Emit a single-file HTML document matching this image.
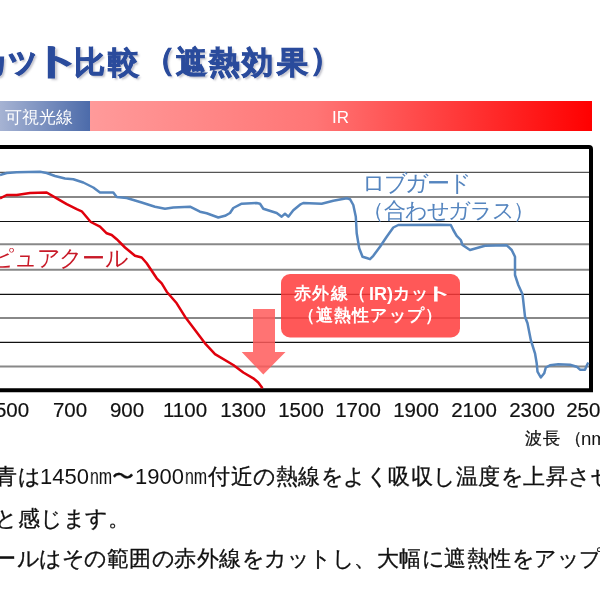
<!DOCTYPE html>
<html><head><meta charset="utf-8"><style>
html,body{margin:0;padding:0;background:#fff;}
body{width:600px;height:600px;overflow:hidden;position:relative;font-family:"Liberation Sans",sans-serif;}
.abs{position:absolute;white-space:nowrap;line-height:1;will-change:transform;}
.b{display:inline-block;text-align:center;white-space:nowrap;}
svg{position:absolute;left:0;top:0;}
</style></head><body>
<div class="abs" style="left:0;top:46.7px;font-size:31px;font-weight:bold;color:#2A4B9C;-webkit-text-stroke:0.9px #2A4B9C;text-shadow:2px 2px 2px rgba(60,60,90,0.3);"><span style="position:absolute;left:-23px;top:0px">カ</span><span style="position:absolute;left:73.8px;top:0px">比</span><span style="position:absolute;left:108.3px;top:0px">較</span><span style="position:absolute;left:143.6px;top:-3.5px">（</span><span style="position:absolute;left:175.9px;top:0px">遮</span><span style="position:absolute;left:208.8px;top:0px">熱</span><span style="position:absolute;left:241.8px;top:0px">効</span><span style="position:absolute;left:277px;top:0px">果</span><span style="position:absolute;left:309.9px;top:-3.5px">）</span><span style="position:absolute;left:3.7px;top:-5.7px;font-size:36px">ッ</span><span style="position:absolute;left:39px;top:-3.7px;font-size:36px;display:inline-block;transform:scaleX(1.45);transform-origin:20px 0">ト</span></div>
<div class="abs" style="left:0;top:101.3px;width:89.5px;height:30px;background:linear-gradient(to right,#A6B3D3,#4C6BAA);"></div>
<div class="abs" style="left:89.5px;top:101.3px;width:501.5px;height:30px;background:linear-gradient(to right,#FF9A9A,#FF7575 45%,#FF0000);"></div>
<div class="abs" style="left:4.5px;top:108.5px;font-size:17px;color:#fff;font-weight:normal;">可視光線</div>
<div class="abs" style="left:331.5px;top:109px;font-size:17px;color:#fff;font-weight:normal;">IR</div>
<svg width="600" height="600" viewBox="0 0 600 600">
<line x1="0" y1="172.3" x2="590" y2="172.3" stroke="#555" stroke-width="1.3"/>
<line x1="0" y1="197" x2="590" y2="197" stroke="#888" stroke-width="2"/>
<line x1="0" y1="221.5" x2="590" y2="221.5" stroke="#111" stroke-width="1.2"/>
<line x1="0" y1="244.2" x2="590" y2="244.2" stroke="#888" stroke-width="2"/>
<line x1="0" y1="269.7" x2="590" y2="269.7" stroke="#888" stroke-width="2"/>
<line x1="0" y1="294.3" x2="590" y2="294.3" stroke="#111" stroke-width="1.2"/>
<line x1="0" y1="318.1" x2="590" y2="318.1" stroke="#888" stroke-width="2"/>
<line x1="0" y1="342.3" x2="590" y2="342.3" stroke="#111" stroke-width="1.2"/>
<line x1="0" y1="366.6" x2="590" y2="366.6" stroke="#888" stroke-width="2"/>
<path d="M-10 147 L589 147 Q591 147 591 149 L591 390.3 L-10 390.3" fill="none" stroke="#000" stroke-width="4"/>
<polyline fill="none" stroke="#5686BD" stroke-width="2.5" stroke-linejoin="round" points="0,175 6.7,173 16.7,172.2 40,171.8 46.7,173 55,176 65,178.5 73.3,179.2 83.3,182.5 93.3,187.5 100,192.5
  113.3,192.5 116.7,197 126.7,198 141.7,202.5 155,206.7 165,208.7 173.3,207.5 190,206.7 200,211.7
  206.7,213.3 218.3,217.5 225,215.8 230,213 233.3,208 241.7,203.7 256.7,203 260,203.7 263.3,208.7 276.7,213 281.7,216.7 285,213.7 288.3,216.7 293.3,210.3 300,204.7
  303.3,203 321.7,203.7 333.3,200.8 346.7,198.3 350,199.2 353.3,205 355.8,216.7 356.7,233.3 359.2,248.3 362.5,256.7 366.7,258 370,259.2 373.3,255.8 380,246.7 386.7,236.7 393.3,227.5 398.3,225 440,224.7
  450.8,225 453.3,230 456.7,235.8 460.8,240 462.5,245 470,250 485,245.8 506.7,245.3 511.7,250 515,256.7 515,275 518.3,285 522.5,294.2 525,316.7 527.5,323.3 530.8,340
  535,353.3 536.7,363.3 537.5,371.7 540.8,377.5 544.2,373.3 545.8,367.5 550,365.3 558.3,364.2 570,364.7 576.7,366.7 580,369.7 585,369.7 586.7,365.8 588.3,362.5"/>
<polyline fill="none" stroke="#E0000C" stroke-width="2.5" stroke-linejoin="round" points="0,198.3 6.7,195 16.7,195 30,193 46.7,192.5 56.7,198.3 66.7,204.2 76.7,209.2 81.7,211.3 90.8,222 100,226.7
  106.7,233.3 111.7,235 116.7,239.2 125,247.5 135,255.8 141.7,257.5 146.7,263.3 156.7,278.3 161.7,283.3 166.7,291.7
  176.7,303.3 185,316.7 195,330 205,343.3 215,354.2 233.3,365 243.3,372.5 253.3,378.3 258.3,382.5 262.5,388.3"/>
<path d="M253 309 L275 309 L275 352 L285.5 352 L263.3 374.5 L241.7 352 L253 352 Z" fill="#FF5A5A" fill-opacity="0.85"/>
<rect x="281" y="274" width="179" height="63.5" rx="9" ry="9" fill="#FF3B3B" fill-opacity="0.85"/>
</svg>
<div class="abs" style="left:292.65px;top:285px;font-size:17px;color:#fff;font-weight:bold;"><span class="b" style="width:18.5px">赤</span><span class="b" style="width:18.5px">外</span><span class="b" style="width:18.5px">線</span><span class="b" style="width:18.5px">（</span></div>
<div class="abs" style="left:368.5px;top:285px;font-size:18px;color:#fff;font-weight:bold;">IR)</div>
<div class="abs" style="left:391.85px;top:285px;font-size:17px;color:#fff;font-weight:bold;"><span class="b" style="width:18.5px">カ</span><span class="b" style="width:18.5px">ッ</span></div>
<div class="abs" style="left:430.5px;top:285px;font-size:17px;color:#fff;font-weight:bold;transform:scaleX(1.7);transform-origin:9.5px 0;">ト</div>
<div class="abs" style="left:297.1px;top:307px;font-size:17px;color:#fff;font-weight:bold;"><span class="b" style="width:18.2px">（</span><span class="b" style="width:18.2px">遮</span><span class="b" style="width:18.2px">熱</span><span class="b" style="width:18.2px">性</span><span class="b" style="width:18.2px">ア</span><span class="b" style="width:18.2px">ッ</span><span class="b" style="width:18.2px">プ</span><span class="b" style="width:18.2px">）</span></div>
<div class="abs" style="left:-9.5px;top:246.5px;font-size:22.8px;color:#C81A28;font-weight:normal;"><span class="b" style="width:22.8px">ピ</span><span class="b" style="width:22.8px">ュ</span><span class="b" style="width:22.8px">ア</span><span class="b" style="width:22.8px">ク</span><span class="b" style="width:22.8px">ー</span><span class="b" style="width:22.8px">ル</span></div>
<div class="abs" style="left:361.7px;top:171.5px;font-size:23px;color:#5585BF;font-weight:normal;"><span class="b" style="width:21.6px">ロ</span><span class="b" style="width:21.6px">ブ</span><span class="b" style="width:21.6px">ガ</span><span class="b" style="width:21.6px">ー</span><span class="b" style="width:21.6px">ド</span></div>
<div class="abs" style="left:361.7px;top:199.5px;font-size:22px;color:#5585BF;font-weight:normal;"><span class="b" style="width:21.6px">（</span><span class="b" style="width:21.6px">合</span><span class="b" style="width:21.6px">わ</span><span class="b" style="width:21.6px">せ</span><span class="b" style="width:21.6px">ガ</span><span class="b" style="width:21.6px">ラ</span><span class="b" style="width:21.6px">ス</span><span class="b" style="width:21.6px">）</span></div>
<div class="abs" style="left:-28.00px;width:80px;text-align:center;top:399.5px;font-size:20.5px;color:#111;-webkit-text-stroke:0.2px #111;">500</div>
<div class="abs" style="left:29.74px;width:80px;text-align:center;top:399.5px;font-size:20.5px;color:#111;-webkit-text-stroke:0.2px #111;">700</div>
<div class="abs" style="left:87.48px;width:80px;text-align:center;top:399.5px;font-size:20.5px;color:#111;-webkit-text-stroke:0.2px #111;">900</div>
<div class="abs" style="left:145.22px;width:80px;text-align:center;top:399.5px;font-size:20.5px;color:#111;-webkit-text-stroke:0.2px #111;">1100</div>
<div class="abs" style="left:202.96px;width:80px;text-align:center;top:399.5px;font-size:20.5px;color:#111;-webkit-text-stroke:0.2px #111;">1300</div>
<div class="abs" style="left:260.70px;width:80px;text-align:center;top:399.5px;font-size:20.5px;color:#111;-webkit-text-stroke:0.2px #111;">1500</div>
<div class="abs" style="left:318.44px;width:80px;text-align:center;top:399.5px;font-size:20.5px;color:#111;-webkit-text-stroke:0.2px #111;">1700</div>
<div class="abs" style="left:376.18px;width:80px;text-align:center;top:399.5px;font-size:20.5px;color:#111;-webkit-text-stroke:0.2px #111;">1900</div>
<div class="abs" style="left:433.92px;width:80px;text-align:center;top:399.5px;font-size:20.5px;color:#111;-webkit-text-stroke:0.2px #111;">2100</div>
<div class="abs" style="left:491.66px;width:80px;text-align:center;top:399.5px;font-size:20.5px;color:#111;-webkit-text-stroke:0.2px #111;">2300</div>
<div class="abs" style="left:549.40px;width:80px;text-align:center;top:399.5px;font-size:20.5px;color:#111;-webkit-text-stroke:0.2px #111;">2500</div>
<div class="abs" style="left:523.7px;top:430px;font-size:17px;color:#111;font-weight:normal;-webkit-text-stroke:0.3px #111;"><span class="b" style="width:18.65px">波</span><span class="b" style="width:18.65px">長</span></div>
<div class="abs" style="left:563.5px;top:430px;font-size:17px;color:#111;font-weight:normal;-webkit-text-stroke:0.3px #111;"><span class="b" style="width:18.65px">（</span></div>
<div class="abs" style="left:581.4px;top:430px;font-size:18.65px;color:#111;font-weight:normal;">nm）</div>
<div class="abs" style="left:-4.75px;top:467px;font-size:21.5px;color:#111;font-weight:normal;-webkit-text-stroke:0.3px #111;"><span class="b" style="width:22.5px">青</span><span class="b" style="width:22.5px">は</span></div>
<div class="abs" style="left:40.25px;top:466px;font-size:22px;color:#111;font-weight:normal;">1450</div>
<div class="abs" style="left:89.9px;top:466px;font-size:22px;color:#111;transform:scaleX(0.72);transform-origin:0 0;">nm</div>
<div class="abs" style="left:112.25px;top:467px;font-size:21.5px;color:#111;font-weight:normal;-webkit-text-stroke:0.3px #111;"><span class="b" style="width:22.5px">〜</span></div>
<div class="abs" style="left:134.75px;top:466px;font-size:22px;color:#111;font-weight:normal;">1900</div>
<div class="abs" style="left:185.2px;top:466px;font-size:22px;color:#111;transform:scaleX(0.72);transform-origin:0 0;">nm</div>
<div class="abs" style="left:207.5px;top:467px;font-size:21.5px;color:#111;font-weight:normal;-webkit-text-stroke:0.3px #111;"><span class="b" style="width:22.5px">付</span><span class="b" style="width:22.5px">近</span><span class="b" style="width:22.5px">の</span><span class="b" style="width:22.5px">熱</span><span class="b" style="width:22.5px">線</span><span class="b" style="width:22.5px">を</span><span class="b" style="width:22.5px">よ</span><span class="b" style="width:22.5px">く</span><span class="b" style="width:22.5px">吸</span><span class="b" style="width:22.5px">収</span><span class="b" style="width:22.5px">し</span><span class="b" style="width:22.5px">温</span><span class="b" style="width:22.5px">度</span><span class="b" style="width:22.5px">を</span><span class="b" style="width:22.5px">上</span><span class="b" style="width:22.5px">昇</span><span class="b" style="width:22.5px">さ</span><span class="b" style="width:22.5px">せ</span></div>
<div class="abs" style="left:-5.5px;top:509px;font-size:21.5px;color:#111;font-weight:normal;-webkit-text-stroke:0.3px #111;"><span class="b" style="width:22.5px">と</span><span class="b" style="width:22.5px">感</span><span class="b" style="width:22.5px">じ</span><span class="b" style="width:22.5px">ま</span><span class="b" style="width:22.5px">す</span><span class="b" style="width:22.5px">。</span></div>
<div class="abs" style="left:-5.75px;top:549px;font-size:21.5px;color:#111;font-weight:normal;-webkit-text-stroke:0.3px #111;"><span class="b" style="width:22.5px">ー</span><span class="b" style="width:22.5px">ル</span><span class="b" style="width:22.5px">は</span><span class="b" style="width:22.5px">そ</span><span class="b" style="width:22.5px">の</span><span class="b" style="width:22.5px">範</span><span class="b" style="width:22.5px">囲</span><span class="b" style="width:22.5px">の</span><span class="b" style="width:22.5px">赤</span><span class="b" style="width:22.5px">外</span><span class="b" style="width:22.5px">線</span><span class="b" style="width:22.5px">を</span><span class="b" style="width:22.5px">カ</span><span class="b" style="width:22.5px">ッ</span><span class="b" style="width:22.5px">ト</span><span class="b" style="width:22.5px">し</span><span class="b" style="width:22.5px">、</span><span class="b" style="width:22.5px">大</span><span class="b" style="width:22.5px">幅</span><span class="b" style="width:22.5px">に</span><span class="b" style="width:22.5px">遮</span><span class="b" style="width:22.5px">熱</span><span class="b" style="width:22.5px">性</span><span class="b" style="width:22.5px">を</span><span class="b" style="width:22.5px">ア</span><span class="b" style="width:22.5px">ッ</span><span class="b" style="width:22.5px">プ</span></div>
</body></html>
